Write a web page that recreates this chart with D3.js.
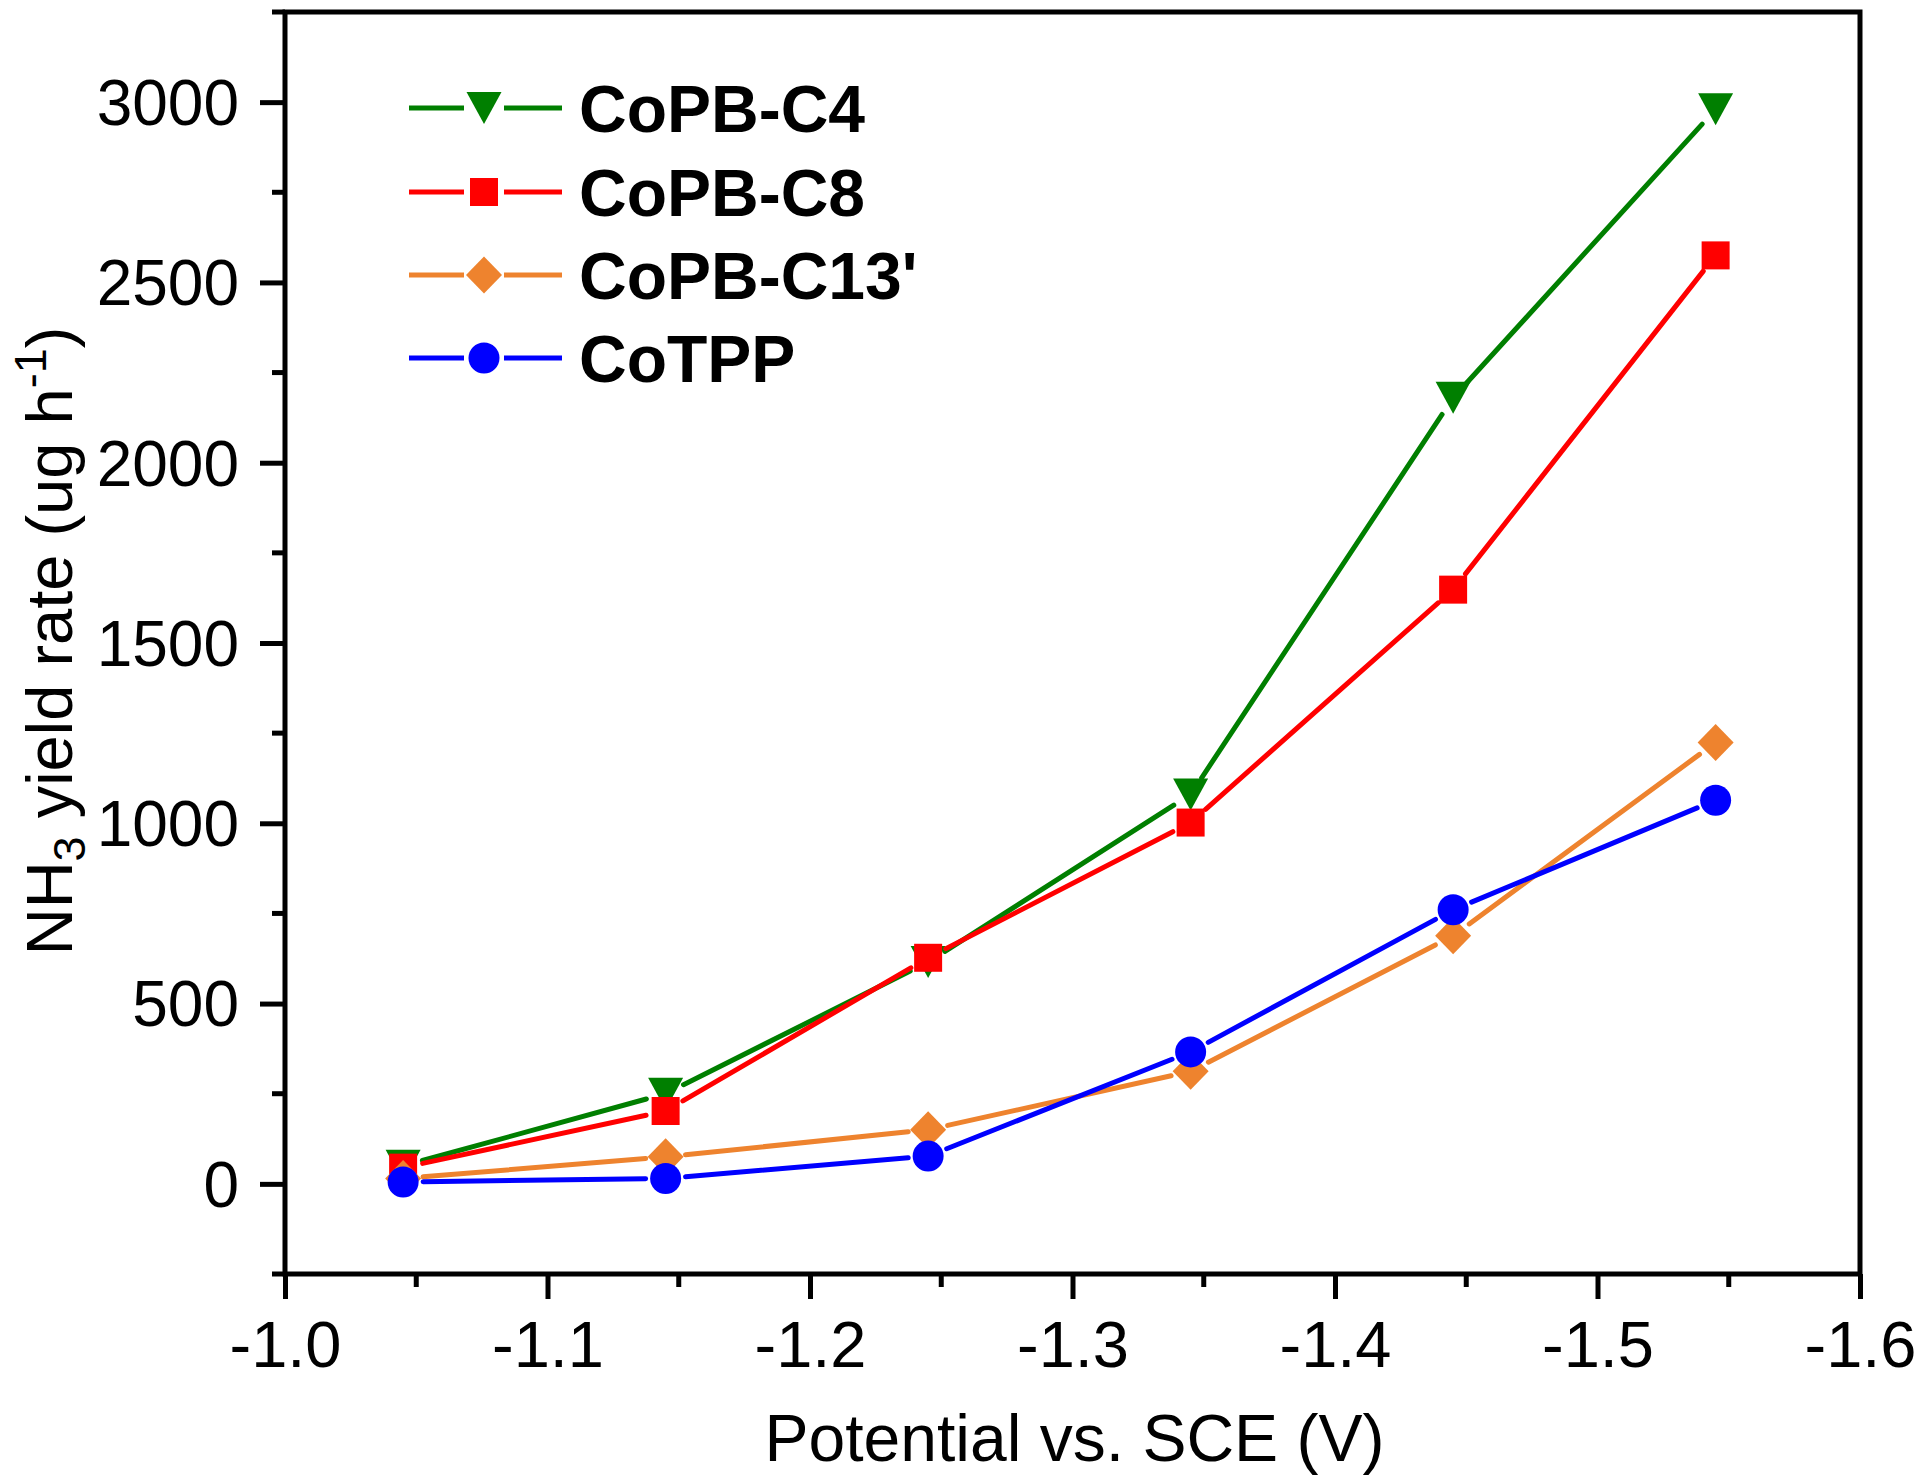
<!DOCTYPE html>
<html><head><meta charset="utf-8">
<script src="https://cdn.jsdelivr.net/npm/d3@7/dist/d3.min.js"></script>
<style>body{margin:0;background:#fff}svg{display:block}</style>
</head><body>
<svg id="chart" width="1920" height="1483"></svg>
<script>
// ---- data ----
const potentials = [-1.045, -1.145, -1.245, -1.345, -1.445, -1.545];
const seriesNames = ["CoPB-C4", "CoPB-C8", "CoPB-C13'", "CoTPP"];
const valsC4 = [50, 250, 615, 1080, 2180, 2980];
const valsC8 = [45, 202, 627, 1002, 1648, 2575];
const valsC13 = [15, 75, 150, 312, 688, 1224];
const valsCoTPP = [5, 15, 77, 366, 760, 1064];
const xTicks = [-1.0, -1.1, -1.2, -1.3, -1.4, -1.5, -1.6];
const yTicks = [0, 500, 1000, 1500, 2000, 2500, 3000];

const colors = ["#007f00", "#ff0000", "#ee832e", "#0000ff"];
const shapes = ["tri", "square", "diamond", "circle"];
const allVals = [valsC4, valsC8, valsC13, valsCoTPP];

const L = 285, R = 1860, T = 12, B = 1274;
const FONT = "'Liberation Sans', Arial, sans-serif";
const svg = d3.select("#chart");

const x = d3.scaleLinear().domain([-1.0, -1.6]).range([L, R]);
const y = d3.scaleLinear().domain([-250, 3250]).range([B, T]);

// frame
const AW = 5;
svg.append("rect").attr("x", L).attr("y", T).attr("width", R - L).attr("height", B - T)
  .attr("fill", "none").attr("stroke", "#000").attr("stroke-width", AW);

// x axis
const xAxis = d3.axisBottom(x).tickValues(xTicks).tickSize(25).tickFormat(d3.format(".1f"));
const gx = svg.append("g").attr("transform", `translate(0,${B})`).call(xAxis);
gx.select(".domain").remove();
gx.selectAll(".tick line").attr("stroke", "#000").attr("stroke-width", AW);
gx.selectAll(".tick text").attr("font-family", FONT).attr("font-size", 65).attr("fill", "#000")
  .attr("y", 0).attr("dy", 0).attr("transform", "translate(0,93)")
  .text(d => d3.format(".1f")(d).replace("−", "-"));
const xMinor = d3.range(-1.05, -1.6, -0.1);
svg.append("g").selectAll("line").data(xMinor).join("line")
  .attr("x1", d => x(d)).attr("x2", d => x(d)).attr("y1", B).attr("y2", B + 13)
  .attr("stroke", "#000").attr("stroke-width", AW);

// y axis
const yAxis = d3.axisLeft(y).tickValues(yTicks).tickSize(25).tickFormat(d3.format("d"));
const gy = svg.append("g").attr("transform", `translate(${L},0)`).call(yAxis);
gy.select(".domain").remove();
gy.selectAll(".tick line").attr("stroke", "#000").attr("stroke-width", AW);
gy.selectAll(".tick text").attr("font-family", FONT).attr("font-size", 64).attr("fill", "#000")
  .attr("x", -46).attr("dy", "0.35em");
const yMinor = [-250, 250, 750, 1250, 1750, 2250, 2750, 3250];
svg.append("g").selectAll("line").data(yMinor).join("line")
  .attr("x1", L - 13).attr("x2", L).attr("y1", d => y(d)).attr("y2", d => y(d))
  .attr("stroke", "#000").attr("stroke-width", AW);

// axis titles
svg.append("text").attr("x", (L + R) / 2 + 2).attr("y", 1461)
  .attr("text-anchor", "middle").attr("font-family", FONT).attr("font-size", 66)
  .text("Potential vs. SCE (V)");

const yt = svg.append("text").attr("transform", "translate(72,641) rotate(-90)")
  .attr("text-anchor", "middle").attr("font-family", FONT).attr("font-size", 65);
yt.append("tspan").text("NH");
yt.append("tspan").attr("font-size", 45).attr("dy", 13).text("3");
yt.append("tspan").attr("dy", -13).text(" yield rate (ug h");
yt.append("tspan").attr("font-size", 45).attr("dy", -26).text("-1");
yt.append("tspan").attr("dy", 26).text(")");

// marker paths
function markerPath(shape) {
  switch (shape) {
    case "tri": return "M-17.5,-16 L17.5,-16 L0,16 Z";
    case "square": return "M-14,-14 L14,-14 L14,14 L-14,14 Z";
    case "diamond": return "M0,-18.5 L18,0 L0,18.5 L-18,0 Z";
    case "circle": return d3.symbol(d3.symbolCircle, Math.PI * 15.5 * 15.5)();
  }
}

const GAP = 20;
function gapSegments(pts) {
  const segs = [];
  for (let i = 0; i < pts.length - 1; i++) {
    const [x1, y1] = pts[i], [x2, y2] = pts[i + 1];
    const dx = x2 - x1, dy = y2 - y1, len = Math.hypot(dx, dy);
    if (len <= 2 * GAP) continue;
    const ux = dx / len, uy = dy / len;
    segs.push([x1 + ux * GAP, y1 + uy * GAP, x2 - ux * GAP, y2 - uy * GAP]);
  }
  return segs;
}

allVals.forEach((vals, si) => {
  const pts = potentials.map((p, i) => [x(p), y(vals[i])]);
  const g = svg.append("g");
  g.selectAll("line").data(gapSegments(pts)).join("line")
    .attr("x1", d => d[0]).attr("y1", d => d[1]).attr("x2", d => d[2]).attr("y2", d => d[3])
    .attr("stroke", colors[si]).attr("stroke-width", 5).attr("stroke-linecap", "round");
  g.selectAll("path").data(pts).join("path")
    .attr("d", markerPath(shapes[si]))
    .attr("transform", d => `translate(${d[0]},${d[1]})`)
    .attr("fill", colors[si]);
});

// legend
const legRows = [108, 192, 275, 358];
const leg = svg.append("g");
seriesNames.forEach((name, si) => {
  const cy = legRows[si], cx = 484;
  leg.append("line").attr("x1", 409).attr("x2", cx - GAP).attr("y1", cy).attr("y2", cy)
    .attr("stroke", colors[si]).attr("stroke-width", 5);
  leg.append("line").attr("x1", cx + GAP).attr("x2", 562).attr("y1", cy).attr("y2", cy)
    .attr("stroke", colors[si]).attr("stroke-width", 5);
  leg.append("path").attr("d", markerPath(shapes[si]))
    .attr("transform", `translate(${cx},${cy})`).attr("fill", colors[si]);
  leg.append("text").attr("x", 579).attr("y", cy).attr("dy", "0.36em")
    .attr("font-family", FONT).attr("font-weight", "bold").attr("font-size", 66)
    .text(name);
});
</script>
</body></html>
